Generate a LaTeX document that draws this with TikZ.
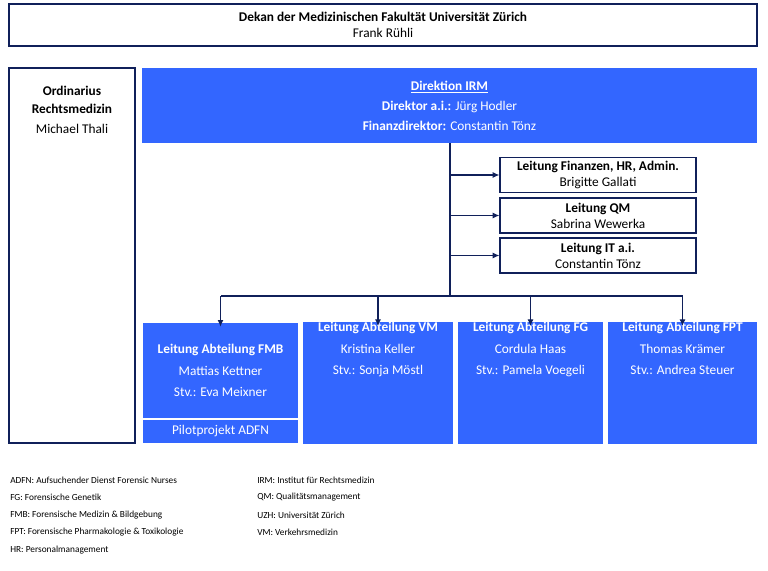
\documentclass[tikz,border=0pt]{standalone}
\usepackage{fontspec}
\setmainfont{Carlito}
\usetikzlibrary{positioning,arrows.meta}
\definecolor{irmblue}{RGB}{51,102,255}
\definecolor{irmnavy}{RGB}{16,32,90}
\begin{document}
\begin{tikzpicture}[x=0.75pt,y=-0.75pt,
  box/.style={draw=irmnavy,line width=0.9pt,align=center,inner sep=0pt},
  blue/.style={fill=irmblue,text=white,align=center,inner sep=0pt},
  conn/.style={draw=irmnavy,line width=0.9pt},
  arr/.style={conn,-{Latex[length=5pt,width=4.5pt]}},
  legend/.style={anchor=west,font=\scriptsize,inner sep=0pt}]
\useasboundingbox (0,0) rectangle (768,571);
% top
\node[box,minimum width=748*0.75pt,minimum height=42*0.75pt] (dekan) at (383,25)
  {\textbf{Dekan der Medizinischen Fakultät Universität Zürich}\\Frank Rühli};
% left column
\draw[irmnavy,line width=0.9pt] (9,68) rectangle (135,443);
\node[align=center,inner sep=0pt] (ordinarius) at (72,110)
  {\textbf{Ordinarius}\\[2pt]\textbf{Rechtsmedizin}\\[3pt]Michael Thali};
% Direktion
\node[blue,minimum width=615*0.75pt,minimum height=75*0.75pt] (direktion) at (449.5,105.5)
  {\textbf{\underline{Direktion IRM}}\\[3pt]\textbf{Direktor a.i.:} Jürg Hodler\\[3pt]\textbf{Finanzdirektor:} Constantin Tönz};
% staff
\node[box,minimum width=196*0.75pt,minimum height=35*0.75pt] (fin) at (598,175)
  {\textbf{Leitung Finanzen, HR, Admin.}\\Brigitte Gallati};
\node[box,minimum width=196*0.75pt,minimum height=35*0.75pt] (qm) at (598,215.5)
  {\textbf{Leitung QM}\\Sabrina Wewerka};
\node[box,minimum width=196*0.75pt,minimum height=35*0.75pt] (it) at (598,255.5)
  {\textbf{Leitung IT a.i.}\\Constantin Tönz};
% departments
\node[blue,minimum width=155*0.75pt,minimum height=95*0.75pt] (fmb) at (220.5,370.5)
  {\textbf{Leitung Abteilung FMB}\\[4pt]Mattias Kettner\\[4pt]Stv.: Eva Meixner};
\node[blue,minimum width=155*0.75pt,minimum height=23*0.75pt,below=1pt of fmb] (adfn)
  {Pilotprojekt ADFN};
\node[blue,minimum width=150*0.75pt,minimum height=120*0.75pt] (vm) at (378,383)
  {\textbf{Leitung Abteilung VM}\\[4pt]Kristina Keller\\[4pt]Stv.: Sonja Möstl\\[40pt]};
\node[blue,minimum width=145*0.75pt,minimum height=120*0.75pt] (fg) at (530.5,383)
  {\textbf{Leitung Abteilung FG}\\[4pt]Cordula Haas\\[4pt]Stv.: Pamela Voegeli\\[40pt]};
\node[blue,minimum width=149*0.75pt,minimum height=120*0.75pt] (fpt) at (682.5,383)
  {\textbf{Leitung Abteilung FPT}\\[4pt]Thomas Krämer\\[4pt]Stv.: Andrea Steuer\\[40pt]};
% connectors
\coordinate (trunk) at (450,143);
\coordinate (split) at (450,296);
\draw[conn] (trunk) -- (split);
\foreach \n in {fin,qm,it}
  \draw[arr] (trunk|-\n.west) -- (\n.west);
\draw[conn] (split) -- (split-|fmb.north) (split) -- (split-|fpt.north);
\foreach \n in {fmb,vm,fg,fpt}
  \draw[arr] (split-|\n.north) -- ([yshift=-3pt]\n.north);
% legend
\node[legend] (l1) at (10,480) {ADFN: Aufsuchender Dienst Forensic Nurses};
\node[legend] (l2) at (10,497.5) {FG: Forensische Genetik};
\node[legend] (l3) at (10,515) {FMB: Forensische Medizin \& Bildgebung};
\node[legend] (l4) at (10,532.5) {FPT: Forensische Pharmakologie \& Toxikologie};
\node[legend] (l5) at (10,550) {HR: Personalmanagement};
\node[legend] (r1) at (257,480) {IRM: Institut für Rechtsmedizin};
\node[legend] (r2) at (257,497.5) {QM: Qualitätsmanagement};
\node[legend] (r3) at (257,515) {UZH: Universität Zürich};
\node[legend] (r4) at (257,532.5) {VM: Verkehrsmedizin};
\end{tikzpicture}
\end{document}
